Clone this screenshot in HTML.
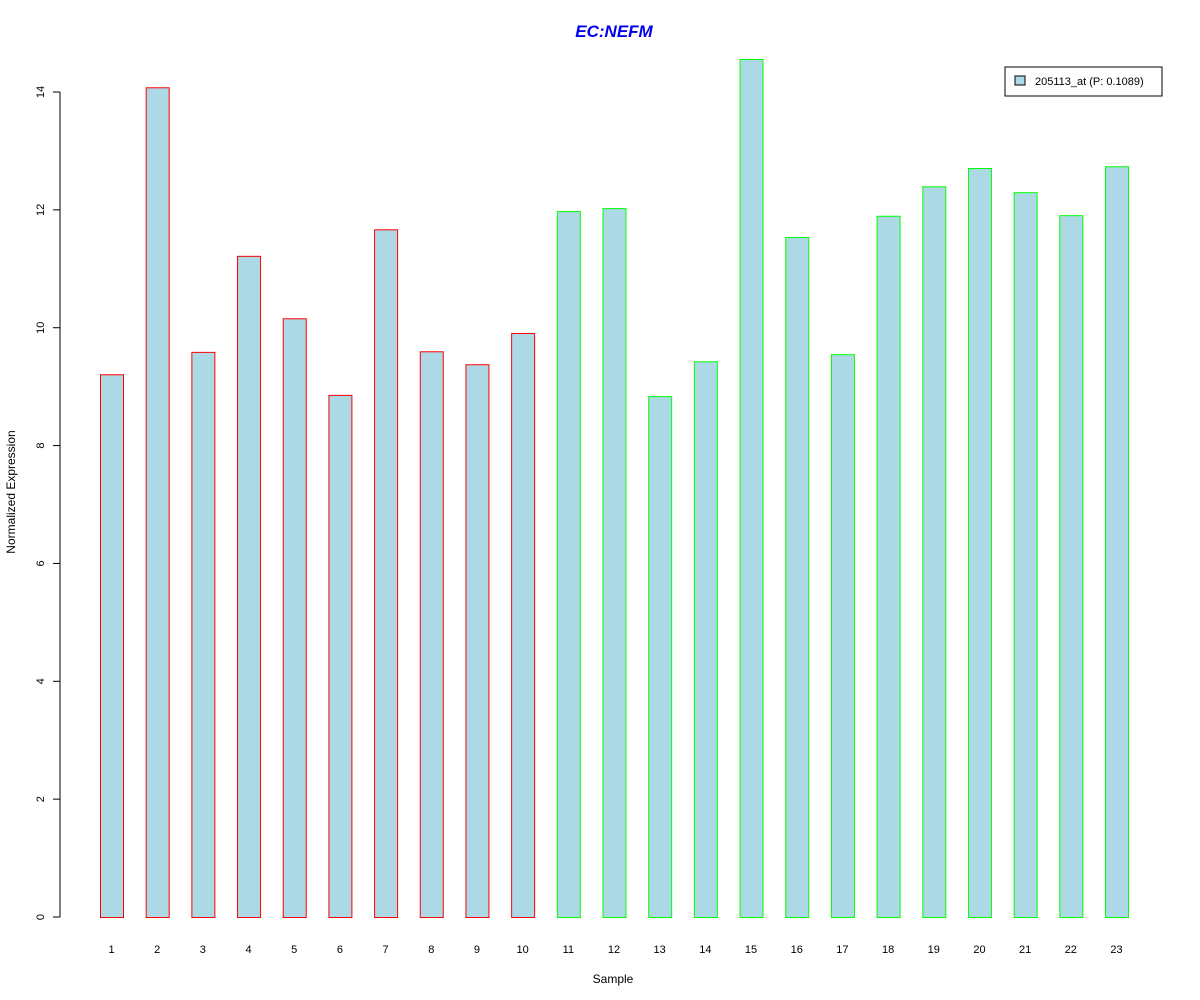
<!DOCTYPE html>
<html><head><meta charset="utf-8"><style>
body{margin:0;background:#fff}
svg{display:block;font-family:"Liberation Sans",Arial,sans-serif}
</style></head><body>
<svg id="chart" width="1200" height="1000" viewBox="0 0 1200 1000">
<rect width="1200" height="1000" fill="#fff"/>
<text x="614" y="37" text-anchor="middle" font-size="17" font-weight="bold" font-style="italic" fill="#0000ee">EC:NEFM</text>
<g id="yaxis"></g>
<g id="bars"></g>
<g id="xlabels"></g>
<text x="613" y="983" text-anchor="middle" font-size="12">Sample</text>
<text x="0" y="0" transform="translate(15,492) rotate(-90)" text-anchor="middle" font-size="12">Normalized Expression</text>
<g>
<rect x="1005" y="67" width="157" height="29" fill="#fff" stroke="#000"/>
<rect x="1015" y="76" width="10" height="9" fill="#add8e6" stroke="#000"/>
<text x="1035" y="85" font-size="11">205113_at (P: 0.1089)</text>
</g>
</svg>
<script>
const categories=["1","2","3","4","5","6","7","8","9","10","11","12","13","14","15","16","17","18","19","20","21","22","23"];
const values=[9.21,14.08,9.59,11.22,10.16,8.86,11.67,9.60,9.38,9.91,11.98,12.03,8.84,9.43,14.56,11.54,9.55,11.90,12.40,12.71,12.30,11.91,12.74];
const groups=["red","red","red","red","red","red","red","red","red","red","green","green","green","green","green","green","green","green","green","green","green","green","green"];
const yTicks=[0,2,4,6,8,10,12,14];
const NS="http://www.w3.org/2000/svg";
const y0=917,yPer=(917-92)/14;
const yS=v=>y0-v*yPer;
const xS=i=>100+i*(1005/22);
const bw=23;
function mk(t,a,p){const e=document.createElementNS(NS,t);for(const k in a)e.setAttribute(k,a[k]);p.appendChild(e);return e;}
const ya=document.getElementById('yaxis');
const axl=mk('line',{x1:60,x2:60,y1:yS(0),y2:yS(yTicks[yTicks.length-1]),stroke:'#000'},ya);


yTicks.forEach(t=>{
 const l=mk('line',{x1:53,x2:60,y1:yS(t),y2:yS(t),stroke:'#000'},ya);
 
 
 const tx=mk('text',{transform:`translate(44,${yS(t)}) rotate(-90)`,'text-anchor':'middle','font-size':11},ya);
 tx.textContent=t;
 
 
});
const bg=document.getElementById('bars'),xg=document.getElementById('xlabels');
values.forEach((v,i)=>{
 const r=mk('rect',{x:xS(i)+0.5,y:yS(v)+0.5,width:bw,height:yS(0)-yS(v),fill:'#add8e6',stroke:groups[i]==='red'?'#ff0000':'#00ff00'},bg);
 
 
 const tx=mk('text',{x:xS(i)+bw/2,y:953,'text-anchor':'middle','font-size':11},xg);
 tx.textContent=categories[i];
 
 
});
</script>
</body></html>
